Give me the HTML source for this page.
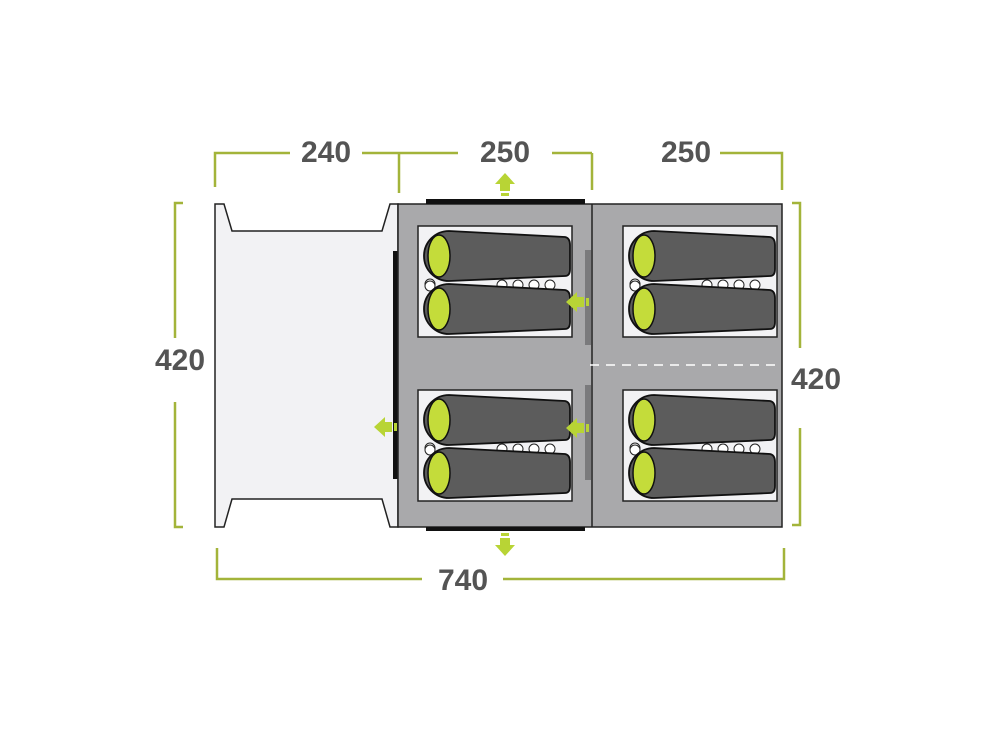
<!DOCTYPE html>
<html><head><meta charset="utf-8"><style>
html,body{margin:0;padding:0;background:#fff;}
svg{display:block}
text{font-family:"Liberation Sans",sans-serif;font-weight:bold;fill:#545454;font-size:30px;text-anchor:middle}
</style></head><body>
<svg width="1000" height="739" viewBox="0 0 1000 739" xmlns="http://www.w3.org/2000/svg">
<defs>
<g id="bag">
  <path d="M25,0 L141,6 Q146,7 146,14 L146,38 Q146,45 141,45 L25,50 A25,25 0 0 1 25,0 Z" fill="#5c5c5c" stroke="#111" stroke-width="1.8"/>
  <ellipse cx="15" cy="25" rx="11" ry="21" fill="#c4dc3a" stroke="#111" stroke-width="1.5"/>
</g>
<g id="room">
  <rect x="0" y="0" width="154" height="111" fill="#f2f2f4" stroke="#222" stroke-width="1.5"/>
  <g fill="#fff" stroke="#222" stroke-width="1">
    <circle cx="12" cy="58" r="5"/><circle cx="12" cy="60" r="5"/>
    <circle cx="84" cy="59" r="5"/><circle cx="100" cy="59" r="5"/><circle cx="116" cy="59" r="5"/><circle cx="132" cy="59" r="5"/>
  </g>
  <use href="#bag" x="6" y="5"/>
  <use href="#bag" x="6" y="58"/>
</g>
<g id="arr"><path d="M0,0 L11,-10 L11,-5 L18,-5 L18,5 L11,5 L11,10 Z" fill="#b8d435"/><rect x="20" y="-4" width="3" height="8" fill="#b8d435"/></g>
</defs>

<!-- porch -->
<path d="M215,204 L224,204 L232,231 L382,231 L390,204 L398,204 L398,527 L390,527 L382,499 L232,499 L224,527 L215,527 Z" fill="#f2f2f4" stroke="#222" stroke-width="1.5"/>
<rect x="393" y="251" width="5" height="228" fill="#111"/>

<!-- main body -->
<rect x="398" y="204" width="384" height="323" fill="#a9a9ab" stroke="#222" stroke-width="1.5"/>
<line x1="592" y1="204" x2="592" y2="527" stroke="#222" stroke-width="1.5"/>
<rect x="426" y="199" width="159" height="5" fill="#111"/>
<rect x="426" y="527" width="159" height="4" fill="#111"/>
<rect x="585" y="250" width="6" height="95" fill="#7a7a7c"/>
<rect x="585" y="385" width="6" height="95" fill="#7a7a7c"/>
<line x1="590" y1="365" x2="782" y2="365" stroke="#fff" stroke-width="1.5" stroke-dasharray="9,7"/>

<use href="#room" x="418" y="226"/>
<use href="#room" x="623" y="226"/>
<use href="#room" x="418" y="390"/>
<use href="#room" x="623" y="390"/>

<!-- arrows -->
<use href="#arr" x="566" y="302"/>
<use href="#arr" x="566" y="428"/>
<use href="#arr" x="374" y="427"/>
<use href="#arr" transform="translate(505,173) rotate(90)"/>
<use href="#arr" transform="translate(505,556) rotate(-90)"/>

<!-- dimension lines -->
<g fill="none" stroke="#a3b43a" stroke-width="2.5">
  <path d="M215,187 L215,153 L290,153"/><path d="M362,153 L458,153"/><path d="M552,153 L592,153"/>
  <path d="M399,153 L399,193"/>
  <path d="M592,153 L592,190"/>
  <path d="M720,153 L782,153 L782,190"/>
  <path d="M183,203 L175,203 L175,338"/><path d="M175,402 L175,527 L183,527"/>
  <path d="M792,203 L800,203 L800,348"/><path d="M800,428 L800,525 L792,525"/>
  <path d="M217,548 L217,579 L422,579"/><path d="M503,579 L784,579 L784,548"/>
</g>
<text x="326" y="162">240</text>
<text x="505" y="162">250</text>
<text x="686" y="162">250</text>
<text x="180" y="370">420</text>
<text x="816" y="389">420</text>
<text x="463" y="590">740</text>
</svg>
</body></html>
